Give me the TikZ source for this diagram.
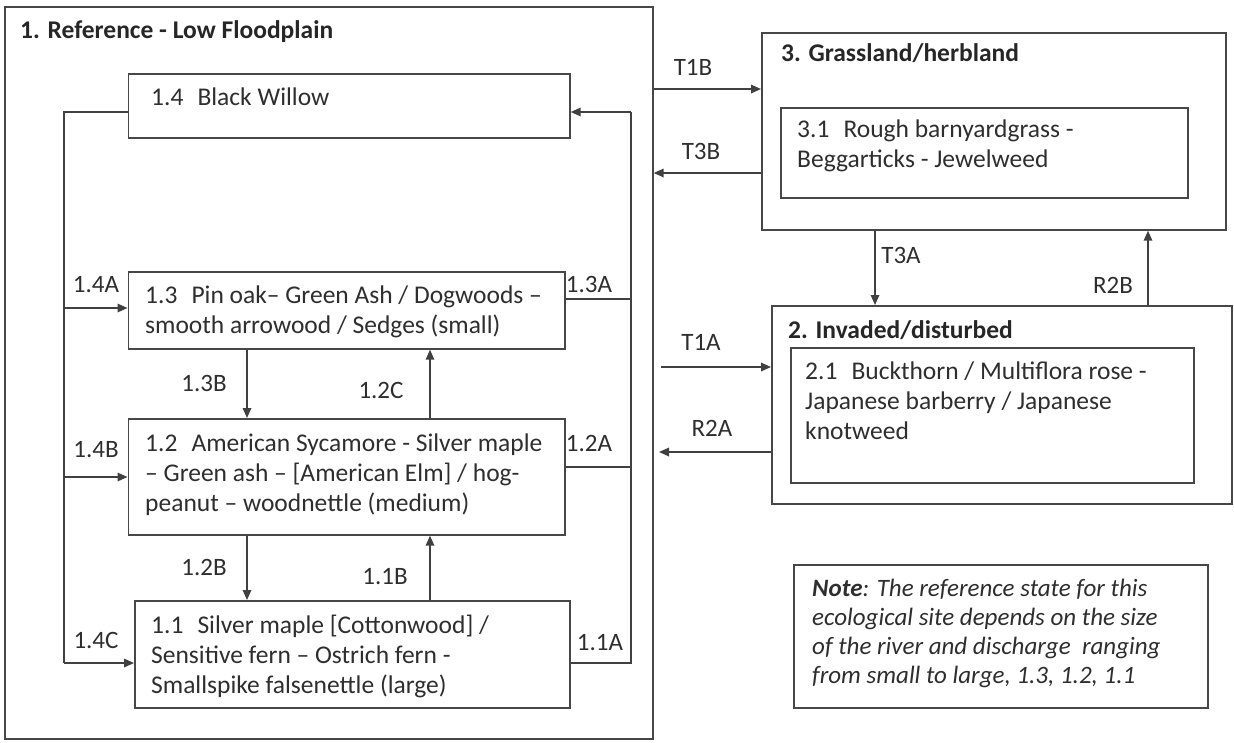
\documentclass[tikz,border=0pt]{standalone}
\usepackage{fontspec}
\setmainfont{Carlito}
\usetikzlibrary{arrows.meta}
\newcommand\numgap{\hspace{0.55em}}
\begin{document}
\begin{tikzpicture}[x=1pt,y=-1pt,
  box/.style={draw=black!72, line width=1.7pt, rectangle, inner sep=0pt, anchor=north west},
  txt/.style={inner sep=0pt, align=left, anchor=north west, text=black!82, font=\fontsize{25.5}{30}\selectfont},
  ttl/.style={inner sep=0pt, anchor=base west, text=black!85, font=\fontsize{25.5}{30}\selectfont\bfseries},
  lbl/.style={inner sep=0pt, text=black!82, font=\fontsize{25}{30}\selectfont},
  ln/.style={draw=black!75, line width=1.7pt},
  arr/.style={ln, -{Triangle[length=10pt,width=8.5pt]}}]
\useasboundingbox (0,0) rectangle (1234,742);
% boxes
\node[box, minimum width=648pt, minimum height=732pt] (b1) at (4,6) {};
\node[box, minimum width=441.5pt, minimum height=64pt] (b14) at (127.5,73) {};
\node[box, minimum width=436.5pt, minimum height=77pt] (b13) at (127.5,271) {};
\node[box, minimum width=436.5pt, minimum height=116pt] (b12) at (127.5,418) {};
\node[box, minimum width=435pt, minimum height=107pt] (b11) at (134,600) {};
\node[box, minimum width=464pt, minimum height=197pt] (b3) at (761,32) {};
\node[box, minimum width=407pt, minimum height=90pt] (b31) at (780,107) {};
\node[box, minimum width=460pt, minimum height=198pt] (b2) at (771,305) {};
\node[box, minimum width=403pt, minimum height=135pt] (b21) at (790,347) {};
\node[box, minimum width=414pt, minimum height=143pt] (note) at (793,564) {};
% titles and texts
\node[ttl] (ti1) at (20,38) {1. Reference - Low Floodplain};
\node[txt] (t14) at (151,84) {\strut 1.4\numgap Black Willow};
\node[txt] (t13) at (145,282) {\strut 1.3\numgap Pin oak– Green Ash / Dogwoods –\\smooth arrowood / Sedges (small)};
\node[txt] (t12) at (145,430) {\strut 1.2\numgap American Sycamore - Silver maple\\– Green ash – [American Elm] / hog-\\peanut – woodnettle (medium)};
\node[txt] (t11) at (151,612) {\strut 1.1\numgap Silver maple [Cottonwood] /\\Sensitive fern – Ostrich fern -\\Smallspike falsenettle (large)};
\node[ttl] (ti3) at (781,61) {3. Grassland/herbland};
\node[txt] (t31) at (797,116) {\strut 3.1\numgap Rough barnyardgrass -\\Beggarticks - Jewelweed};
\node[ttl] (ti2) at (788,338) {2. Invaded/disturbed};
\node[txt] (t21) at (805,358) {\strut 2.1\numgap Buckthorn / Multiflora rose -\\Japanese barberry / Japanese\\knotweed};
\node[txt, font=\fontsize{25}{29}\selectfont\itshape] (tn) at (812,576) {\strut\textbf{Note}: The reference state for this\\ecological site depends on the size\\of the river and discharge\ \ ranging\\from small to large, 1.3, 1.2, 1.1};
% bus coordinates
\coordinate (lt) at (64,112);
\coordinate (lb) at (64,663);
\coordinate (la) at (64,308);
\coordinate (lbb) at (64,477);
\coordinate (rt) at (631,112);
\coordinate (rb) at (631,663);
\coordinate (r13) at (631,299);
\coordinate (r12) at (631,467);
\coordinate (c1) at (247,0);
\coordinate (c2) at (430,0);
% left bus
\draw[ln] (b14.west |- lt) -| (lb);
\draw[arr] (lb) -- (b11.west |- lb);
\draw[arr] (la) -- (b13.west |- la);
\draw[arr] (lbb) -- (b12.west |- lbb);
% right bus
\draw[ln] (b11.east |- rb) -| (rt);
\draw[arr] (rt) -- (b14.east |- rt);
\draw[ln] (b13.east |- r13) -- (r13);
\draw[ln] (b12.east |- r12) -- (r12);
% vertical transitions
\draw[arr] (b13.south -| c1) -- (b12.north -| c1);
\draw[arr] (b12.north -| c2) -- (b13.south -| c2);
\draw[arr] (b12.south -| c1) -- (b11.north -| c1);
\draw[arr] (b11.north -| c2) -- (b12.south -| c2);
% labels
\node[lbl] (l14a) at (96,285) {1.4A};
\node[lbl] (l13a) at (589,284) {1.3A};
\node[lbl] (l13b) at (204,383) {1.3B};
\node[lbl] (l12c) at (381,390) {1.2C};
\node[lbl] (l14b) at (96,450) {1.4B};
\node[lbl] (l12a) at (589,443) {1.2A};
\node[lbl] (l12b) at (204,567) {1.2B};
\node[lbl] (l11b) at (385,577) {1.1B};
\node[lbl] (l14c) at (96,640) {1.4C};
\node[lbl] (l11a) at (600,643) {1.1A};
% state transitions
\coordinate (y1) at (0,89);
\coordinate (y2) at (0,173);
\coordinate (x3a) at (875,0);
\coordinate (x2b) at (1148,0);
\coordinate (t1as) at (661,367);
\coordinate (r2ae) at (659,452);
\draw[arr] (b1.east |- y1) -- (b3.west |- y1);
\draw[arr] (b3.west |- y2) -- (b1.east |- y2);
\draw[arr] (b3.south -| x3a) -- (b2.north -| x3a);
\draw[arr] (b2.north -| x2b) -- (b3.south -| x2b);
\draw[arr] (t1as) -- (b2.west |- t1as);
\draw[arr] (b2.west |- r2ae) -- (r2ae);
\node[lbl] (lt1b) at (693,67) {T1B};
\node[lbl] (lt3b) at (701,151) {T3B};
\node[lbl] (lt3a) at (901,255) {T3A};
\node[lbl] (lr2b) at (1113,285) {R2B};
\node[lbl] (lt1a) at (701,342) {T1A};
\node[lbl] (lr2a) at (712,428) {R2A};
\end{tikzpicture}
\end{document}
